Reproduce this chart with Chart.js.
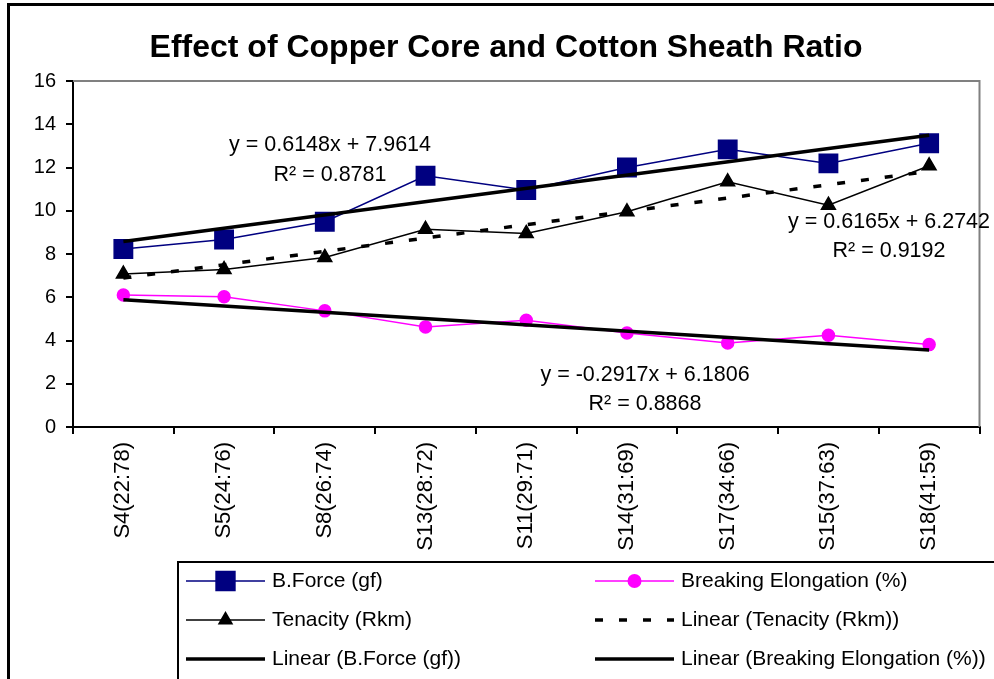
<!DOCTYPE html>
<html>
<head>
<meta charset="utf-8">
<script src="https://cdn.jsdelivr.net/npm/chart.js@4.4.0/dist/chart.umd.min.js"></script>
<style>
  html, body { margin: 0; padding: 0; background: #fff; }
  #wrap { width: 994px; height: 679px; position: relative; }
</style>
</head>
<body>
<div id="wrap"><canvas id="chart" width="994" height="679"></canvas></div>
<script>
// Sample categories (core:sheath ratio)
const categories = ['S4(22:78)', 'S5(24:76)', 'S8(26:74)', 'S13(28:72)', 'S11(29:71)', 'S14(31:69)', 'S17(34:66)', 'S15(37:63)', 'S18(41:59)'];

const bForce = [8.23, 8.67, 9.49, 11.62, 10.96, 12.0, 12.84, 12.19, 13.12];
const elongation = [6.10, 6.02, 5.37, 4.63, 4.94, 4.35, 3.89, 4.24, 3.81];
const tenacity = [7.07, 7.28, 7.84, 9.14, 8.95, 9.95, 11.34, 10.26, 12.08];

// Trendline end values (first and last category only)
const bForceTrend = [8.58, null, null, null, null, null, null, null, 13.49];
const tenacityTrend = [6.89, null, null, null, null, null, null, null, 11.82];
const elongationTrend = [5.89, null, null, null, null, null, null, null, 3.56];

// Y axis ticks
const yMin = 0;
const yMax = 16;
const yStep = 2;

// Trendline equation labels
const eqLines = [
  ['y = 0.6148x + 7.9614', 'R\u00B2 = 0.8781'],
  ['y = 0.6165x + 6.2742', 'R\u00B2 = 0.9192'],
  ['y = -0.2917x + 6.1806', 'R\u00B2 = 0.8868']
];

const FONT = '"Liberation Sans", Arial, sans-serif';

// Frame, plot border, title, equations and legend box
const decorPlugin = {
  id: 'decor',
  beforeDraw(chart) {
    const ctx = chart.ctx;
    ctx.save();
    ctx.fillStyle = '#fff';
    ctx.fillRect(0, 0, chart.width, chart.height);
    ctx.restore();
  },
  afterDraw(chart) {
    const ctx = chart.ctx;
    const area = chart.chartArea;
    ctx.save();

    // outer chart frame (runs off the picture on the right and bottom)
    ctx.strokeStyle = '#000';
    ctx.lineWidth = 3;
    ctx.strokeRect(8.5, 4.5, 1200, 1000);

    // plot area top / right edges
    ctx.strokeStyle = '#808080';
    ctx.lineWidth = 2;
    ctx.beginPath();
    ctx.moveTo(area.left, area.top);
    ctx.lineTo(area.right, area.top);
    ctx.lineTo(area.right, area.bottom);
    ctx.stroke();

    // title
    ctx.fillStyle = '#000';
    ctx.font = 'bold 32px ' + FONT;
    ctx.textAlign = 'center';
    ctx.textBaseline = 'middle';
    ctx.fillText('Effect of Copper Core and Cotton Sheath Ratio', 506, 48);

    // trendline equations
    ctx.font = '21.5px ' + FONT;
    const eqPos = [[330, 145, 175], [889, 222, 251], [645, 375, 404]];
    eqLines.forEach((lines, i) => {
      const p = eqPos[i];
      ctx.fillText(lines[0], p[0], p[1]);
      ctx.fillText(lines[1], p[0], p[2]);
    });

    // legend box
    ctx.strokeStyle = '#000';
    ctx.lineWidth = 2;
    ctx.strokeRect(178, 562, 1000, 300);

    const colX = [186, 595];
    const rowY = [581, 620, 659];
    const lineLen = 79;
    ctx.textAlign = 'left';
    ctx.font = '21px ' + FONT;
    const legendOrder = [0, 1, 2, 4, 3, 5];
    legendOrder.forEach((dsIndex, k) => {
      const ds = chart.data.datasets[dsIndex];
      const x = colX[k % 2];
      const y = rowY[Math.floor(k / 2)];
      ctx.save();
      ctx.strokeStyle = ds.borderColor;
      ctx.lineWidth = ds.borderWidth;
      ctx.setLineDash(ds.borderDash || []);
      ctx.beginPath();
      ctx.moveTo(x, y);
      ctx.lineTo(x + lineLen, y);
      ctx.stroke();
      ctx.restore();
      if (ds.pointRadius > 0) {
        ctx.save();
        ctx.fillStyle = ds.pointBackgroundColor;
        ctx.strokeStyle = ds.pointBorderColor;
        Chart.helpers.drawPoint(ctx, {
          pointStyle: ds.pointStyle,
          radius: ds.legendRadius,
          rotation: 0,
          borderWidth: 1
        }, x + lineLen / 2, y);
        ctx.restore();
      }
      ctx.fillStyle = '#000';
      ctx.fillText(ds.label, x + lineLen + 7, y);
    });

    ctx.restore();
  }
};

new Chart(document.getElementById('chart'), {
  type: 'line',
  data: {
    labels: categories,
    datasets: [
      {
        label: 'B.Force (gf)',
        data: bForce,
        borderColor: '#000080',
        borderWidth: 1.5,
        pointStyle: 'rect',
        pointRadius: 13,
        legendRadius: 13,
        pointBackgroundColor: '#000080',
        pointBorderColor: '#000080',
        order: 3
      },
      {
        label: 'Breaking Elongation (%)',
        data: elongation,
        borderColor: '#FF00FF',
        borderWidth: 1.5,
        pointStyle: 'circle',
        pointRadius: 6,
        legendRadius: 6,
        pointBackgroundColor: '#FF00FF',
        pointBorderColor: '#FF00FF',
        order: 3
      },
      {
        label: 'Tenacity (Rkm)',
        data: tenacity,
        borderColor: '#000',
        borderWidth: 1.5,
        pointStyle: 'triangle',
        pointRadius: 8,
        legendRadius: 7,
        pointBackgroundColor: '#000',
        pointBorderColor: '#000',
        order: 3
      },
      {
        label: 'Linear (B.Force (gf))',
        data: bForceTrend,
        borderColor: '#000',
        borderWidth: 3.5,
        pointRadius: 0,
        spanGaps: true,
        order: 1
      },
      {
        label: 'Linear (Tenacity (Rkm))',
        data: tenacityTrend,
        borderColor: '#000',
        borderWidth: 3.5,
        borderDash: [8, 16],
        pointRadius: 0,
        spanGaps: true,
        order: 1
      },
      {
        label: 'Linear (Breaking Elongation (%))',
        data: elongationTrend,
        borderColor: '#000',
        borderWidth: 3.5,
        pointRadius: 0,
        spanGaps: true,
        order: 1
      }
    ]
  },
  options: {
    responsive: false,
    animation: false,
    events: [],
    layout: {
      padding: { top: 81, right: 11, bottom: 122, left: 0 }
    },
    elements: {
      line: { tension: 0 }
    },
    plugins: {
      legend: { display: false },
      title: { display: false },
      tooltip: { enabled: false }
    },
    scales: {
      x: {
        offset: true,
        afterFit(scale) { scale.height = 130; },
        grid: {
          offset: true,
          drawOnChartArea: false,
          drawTicks: true,
          tickLength: 7,
          color: '#000',
          lineWidth: 2
        },
        border: { display: true, color: '#000', width: 2 },
        ticks: {
          autoSkip: false,
          minRotation: 90,
          maxRotation: 90,
          padding: 8,
          color: '#000',
          font: { family: FONT, size: 22 }
        }
      },
      y: {
        min: yMin,
        max: yMax,
        afterFit(scale) { scale.width = 73; },
        grid: {
          drawOnChartArea: false,
          drawTicks: true,
          tickLength: 7,
          color: '#000',
          lineWidth: 2
        },
        border: { display: true, color: '#000', width: 2 },
        ticks: {
          stepSize: yStep,
          padding: 10,
          color: '#000',
          font: { family: FONT, size: 20 }
        }
      }
    }
  },
  plugins: [decorPlugin]
});
</script>
</body>
</html>
